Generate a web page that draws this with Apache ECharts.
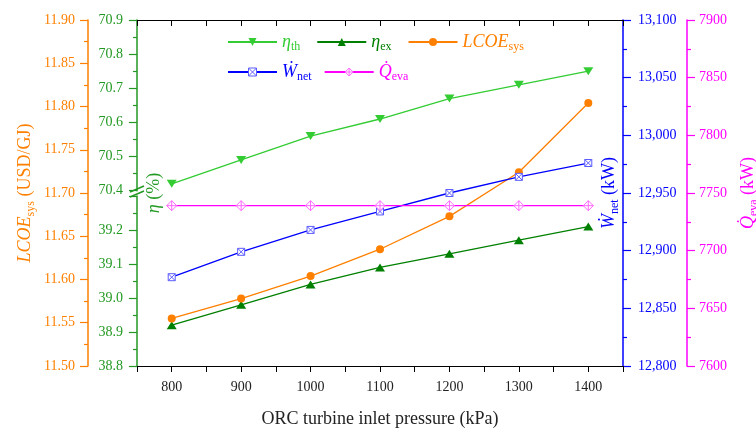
<!DOCTYPE html>
<html><head><meta charset="utf-8">
<script src="https://cdn.jsdelivr.net/npm/echarts@6/dist/echarts.min.js"></script>
<style>html,body{margin:0;padding:0;background:#fff}#c{width:756px;height:430px}</style>
</head><body><div id="c"></div>
<script>
// ---- data ----
const pressure = [800, 900, 1000, 1100, 1200, 1300, 1400];
const etaTh = [70.42, 70.49, 70.56, 70.61, 70.67, 70.71, 70.75];
const etaEx = [38.92, 38.98, 39.04, 39.09, 39.13, 39.17, 39.21];
const lcoe = [11.555, 11.578, 11.604, 11.635, 11.673, 11.724, 11.804];
const wNet = [12877, 12899, 12918, 12934, 12950, 12964, 12976];
const qEva = [7739, 7739, 7739, 7739, 7739, 7739, 7739];
const seriesNames = ['eta_th', 'eta_ex', 'LCOE', 'Wnet', 'Qeva'];
const legendLabels = {
  eta_th: '{i|η}{s|th}', eta_ex: '{i|η}{s|ex}', LCOE: '{i|LCOE}{s|sys}',
  Wnet: '{i|W\u0307}{s|net}', Qeva: '{i|Q\u0307}{s|eva}'
};

const F = 'Liberation Serif';
const C_TH = '#33cc33', C_EX = '#008000', C_GAX = '#229922', C_OR = '#ff8000',
      C_BL = '#0000ff', C_MG = '#ff00ff', C_BLM = '#5c5cff', C_MGM = '#ff66ff';

const pairs = a => pressure.map((p, i) => [p, a[i]]);
const rich = {
  i: {fontStyle: 'italic', fontSize: 18, lineHeight: 24, fontFamily: F},
  t: {fontSize: 18, lineHeight: 24, fontFamily: F},
  s: {fontSize: 12, lineHeight: 12, verticalAlign: 'bottom', fontFamily: F}
};
const lrich = {
  i: {fontStyle: 'italic', fontSize: 18, lineHeight: 22, fontFamily: F},
  s: {fontSize: 12, lineHeight: 12, verticalAlign: 'bottom', fontFamily: F}
};

const gridPos = {left: 137, right: 133, outerBoundsMode: 'none', containLabel: false};
const baseX = {
  type: 'value', min: 750, max: 1450, interval: 50,
  axisLine: {show: false}, axisTick: {show: false}, axisLabel: {show: false}, splitLine: {show: false}
};
function yAx(o) {
  return Object.assign({
    type: 'value', splitLine: {show: false},
    axisLine: {show: true, lineStyle: {color: o.color, width: 1.5}},
    axisTick: {show: true, inside: false, length: 8, lineStyle: {color: o.color, width: 1.2}},
    minorTick: {show: true, splitNumber: 2, length: 4, lineStyle: {color: o.color, width: 1.2}},
    axisLabel: {color: o.color, fontFamily: F, fontSize: 14, margin: 14},
    nameLocation: 'middle', nameMoveOverlap: false,
    nameTextStyle: {color: o.color, fontFamily: F, fontSize: 18, rich: rich}
  }, o.opt);
}

const pathSqX = 'path://M0,0 L10,0 L10,10 L0,10 Z M0,0 L10,10 M10,0 L0,10';
const pathDiaX = 'path://M5,0 L10,5 L5,10 L0,5 Z M5,0 L5,10 M0,5 L10,5';

const option = {
  animation: false,
  backgroundColor: '#fff',
  grid: [
    Object.assign({top: 20, bottom: 64}, gridPos),
    Object.assign({top: 20, height: 170.7}, gridPos),
    Object.assign({top: 196, height: 170}, gridPos)
  ],
  xAxis: [
    {
      type: 'value', gridIndex: 0, min: 750, max: 1450, interval: 50, position: 'bottom',
      axisLine: {show: true, lineStyle: {color: '#000', width: 1.2}},
      axisTick: {show: true, length: 6, lineStyle: {color: '#000'}},
      axisLabel: {color: '#222', fontFamily: F, fontSize: 14, margin: 14,
        formatter: v => (v % 100 === 0 ? String(v) : '')},
      splitLine: {show: false},
      name: 'ORC turbine inlet pressure (kPa)', nameLocation: 'middle', nameGap: 44, nameMoveOverlap: false,
      nameTextStyle: {color: '#222', fontFamily: F, fontSize: 18}
    },
    Object.assign({gridIndex: 1}, baseX),
    Object.assign({gridIndex: 2}, baseX),
    {
      type: 'value', gridIndex: 0, min: 750, max: 1450, interval: 50, position: 'top',
      axisLine: {show: true, lineStyle: {color: '#000', width: 1.2}},
      axisTick: {show: true, inside: true, length: 6, lineStyle: {color: '#000'}},
      axisLabel: {show: false}, splitLine: {show: false}
    }
  ],
  yAxis: [
    yAx({color: C_OR, opt: {gridIndex: 0, position: 'left', offset: 49, min: 11.5, max: 11.9, interval: 0.05,
      axisLabel: {color: C_OR, fontFamily: F, fontSize: 14, margin: 13, formatter: v => v.toFixed(2)},
      name: '{i|LCOE}{s|sys}{t| (USD/GJ)}', nameGap: 51}}),
    yAx({color: C_BL, opt: {gridIndex: 0, position: 'right', offset: 0, min: 12800, max: 13100, interval: 50,
      axisLabel: {color: C_BL, fontFamily: F, fontSize: 14, margin: 15, formatter: v => v.toLocaleString('en-US')},
      name: '{i|W\u0307}{s|net}{t| (kW)}', nameGap: -26}}),
    yAx({color: C_MG, opt: {gridIndex: 0, position: 'right', offset: 64, min: 7600, max: 7900, interval: 50,
      axisLabel: {color: C_MG, fontFamily: F, fontSize: 14, margin: 12, formatter: v => String(v)},
      name: '{i|Q\u0307}{s|eva}{t| (kW)}', nameGap: 49}}),
    {
      type: 'value', gridIndex: 0, position: 'left', min: 0, max: 1,
      axisLine: {show: false}, axisTick: {show: false}, axisLabel: {show: false}, splitLine: {show: false},
      name: '{i|η}{t| (%)}', nameLocation: 'middle', nameGap: -29, nameMoveOverlap: false,
      nameTextStyle: {color: C_GAX, fontFamily: F, fontSize: 18, rich: rich}
    },
    yAx({color: C_GAX, opt: {gridIndex: 1, position: 'left', min: 70.4, max: 70.9, interval: 0.1,
      axisLabel: {color: C_GAX, fontFamily: F, fontSize: 14, margin: 14, formatter: v => v.toFixed(1)}}}),
    yAx({color: C_GAX, opt: {gridIndex: 2, position: 'left', min: 38.8, max: 39.3, interval: 0.1,
      axisLabel: {color: C_GAX, fontFamily: F, fontSize: 14, margin: 14,
        formatter: v => (Math.abs(v - 39.3) < 1e-6 ? '' : v.toFixed(1))}}})
  ],
  legend: [
    {
      left: 222, top: 28, itemWidth: 49, itemHeight: 10, itemGap: 16, orient: 'horizontal',
      data: [
        {name: 'eta_th', textStyle: {color: C_TH}},
        {name: 'eta_ex', textStyle: {color: C_EX}},
        {name: 'LCOE', textStyle: {color: C_OR}}
      ],
      formatter: n => legendLabels[n],
      textStyle: {fontFamily: F, fontSize: 18, rich: lrich}
    },
    {
      left: 222, top: 58, itemWidth: 49, itemHeight: 10, itemGap: 12, orient: 'horizontal',
      data: [
        {name: 'Wnet', textStyle: {color: C_BL},
          itemStyle: {color: '#fff', borderColor: C_BLM, borderWidth: 1}},
        {name: 'Qeva', textStyle: {color: C_MG},
          itemStyle: {color: '#fff', borderColor: C_MGM, borderWidth: 1}}
      ],
      formatter: n => legendLabels[n],
      textStyle: {fontFamily: F, fontSize: 18, rich: lrich}
    }
  ],
  series: [
    {name: 'eta_th', type: 'line', xAxisIndex: 1, yAxisIndex: 4, data: pairs(etaTh),
      symbol: 'triangle', symbolRotate: 180, symbolSize: [10, 8],
      itemStyle: {color: C_TH}, lineStyle: {color: C_TH, width: 1.3}},
    {name: 'eta_ex', type: 'line', xAxisIndex: 2, yAxisIndex: 5, data: pairs(etaEx),
      symbol: 'triangle', symbolSize: [10, 8],
      itemStyle: {color: C_EX}, lineStyle: {color: C_EX, width: 1.3}},
    {name: 'LCOE', type: 'line', xAxisIndex: 0, yAxisIndex: 0, data: pairs(lcoe),
      symbol: 'circle', symbolSize: 8,
      itemStyle: {color: C_OR}, lineStyle: {color: C_OR, width: 1.3}},
    {name: 'Wnet', type: 'line', xAxisIndex: 0, yAxisIndex: 1, data: pairs(wNet),
      symbol: pathSqX, symbolSize: 7,
      itemStyle: {color: '#fff', borderColor: C_BLM, borderWidth: 1}, lineStyle: {color: C_BL, width: 1.3}},
    {name: 'Qeva', type: 'line', xAxisIndex: 0, yAxisIndex: 2, data: pairs(qEva),
      symbol: pathDiaX, symbolSize: 10,
      itemStyle: {color: '#fff', borderColor: C_MGM, borderWidth: 1}, lineStyle: {color: C_MG, width: 1.3}}
  ],
  graphic: [
    {type: 'line', z: 100, shape: {x1: 130, y1: 192, x2: 144, y2: 186}, style: {stroke: C_GAX, lineWidth: 1.5}},
    {type: 'line', z: 100, shape: {x1: 130, y1: 197, x2: 144, y2: 191}, style: {stroke: C_GAX, lineWidth: 1.5}}
  ]
};
const chart = echarts.init(document.getElementById('c'), null, {renderer: 'canvas'});
chart.setOption(option);
</script></body></html>
